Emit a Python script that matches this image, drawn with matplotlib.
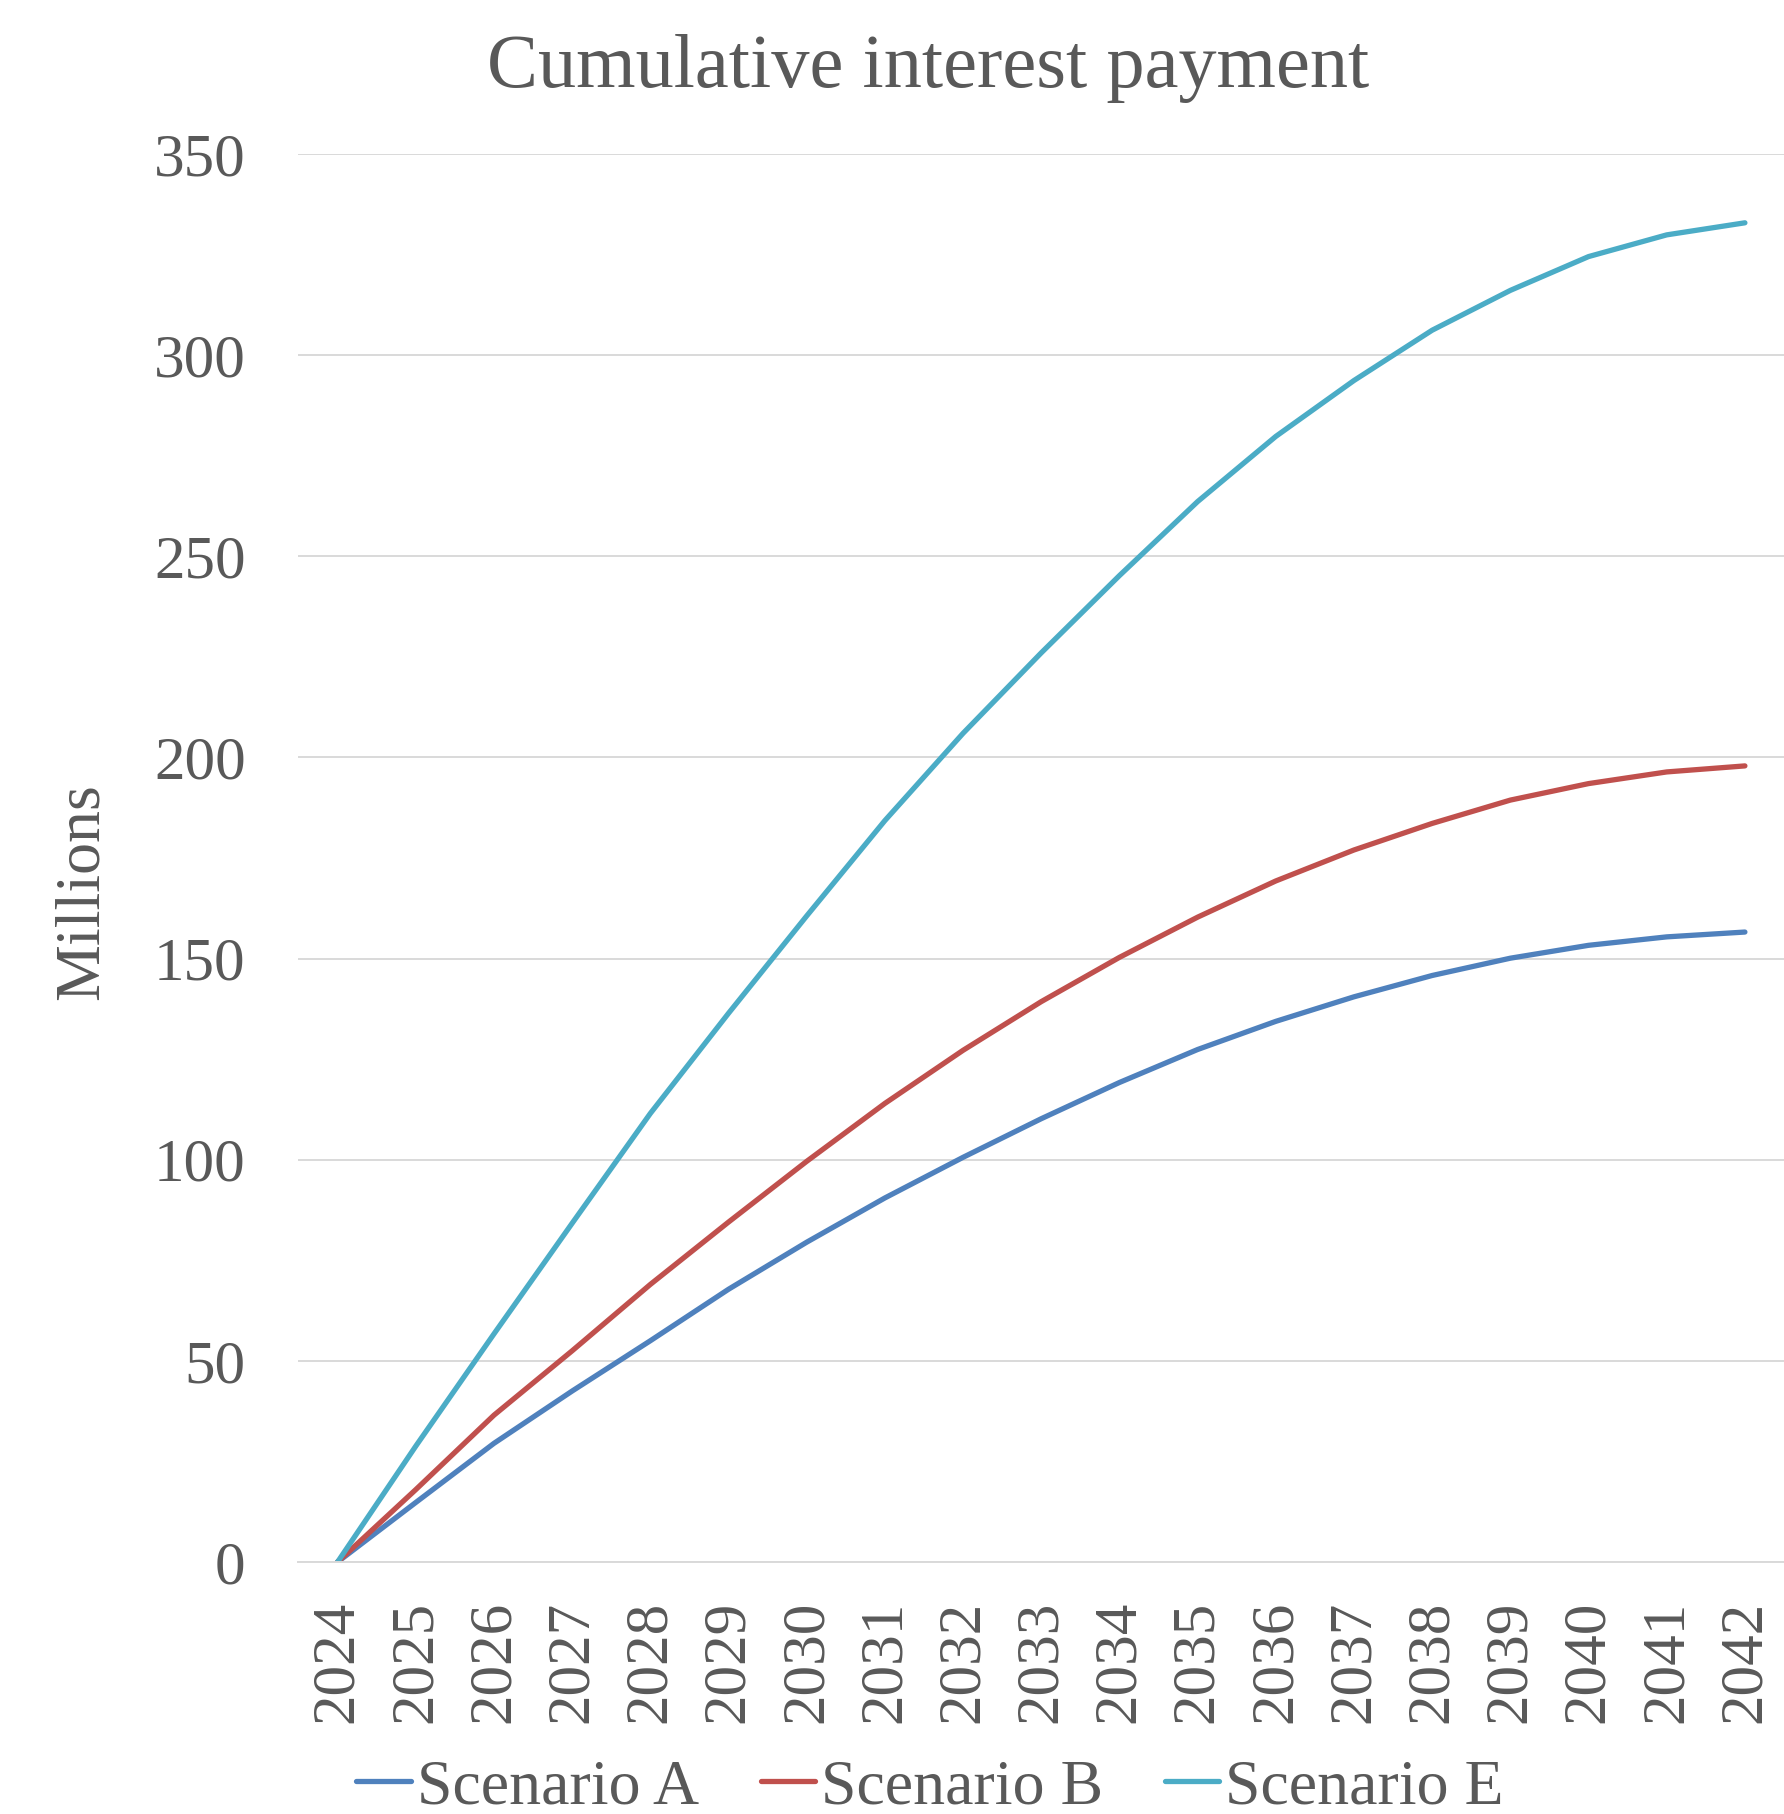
import matplotlib
matplotlib.use("Agg")
import matplotlib.pyplot as plt

years = [str(y) for y in range(2024, 2043)]
scenario_a = [0, 14.8, 29.5, 42.5, 55, 67.8, 79.5, 90.5, 100.6, 110.2, 119.2, 127.4, 134.4, 140.5, 145.8, 150.1, 153.3, 155.4, 156.6]
scenario_b = [0, 18, 36.5, 52.5, 69, 84.5, 99.6, 114, 127.2, 139.3, 150.3, 160.3, 169.3, 177, 183.6, 189.4, 193.5, 196.4, 197.9]
scenario_e = [0, 28.8, 56.7, 84.2, 111.5, 136.4, 160.6, 184.3, 206, 226, 245.2, 263.6, 279.8, 293.7, 306.2, 316.1, 324.5, 329.9, 332.9]
series_names = ["Scenario A", "Scenario B", "Scenario E"]
colors = ["#4F81BD", "#C0504D", "#4BACC6"]
yticks = [0, 50, 100, 150, 200, 250, 300, 350]

plt.rcParams['font.family'] = ['Liberation Serif', 'DejaVu Serif']
text_color = "#595959"

fig = plt.figure(figsize=(17.84, 18.14), dpi=100)
ax = fig.add_axes([0.1673, 0.1389, 0.8327, 0.7762])

x = list(range(len(years)))
for vals, name, c in zip([scenario_a, scenario_b, scenario_e], series_names, colors):
    ax.plot(x, vals, color=c, lw=3.8, label=name, solid_capstyle='round', solid_joinstyle='round')

ax.set_xlim(-0.5, len(years) - 0.5)
ax.set_ylim(0, 350)
ax.set_yticks(yticks)
ax.set_xticks(x)
ax.set_xticklabels(years, rotation=90)
ax.grid(axis='y', color='#D9D9D9', lw=1.4)
ax.set_axisbelow(True)
for s in ['top', 'right', 'left']:
    ax.spines[s].set_visible(False)
ax.spines['bottom'].set_color('#D9D9D9')
ax.spines['bottom'].set_linewidth(1.4)
ax.tick_params(axis='y', length=0, pad=38, labelsize=44, labelcolor=text_color)
ax.tick_params(axis='x', length=0, pad=28, labelsize=44, labelcolor=text_color)

ax.set_ylabel("Millions", fontsize=46, color=text_color)
ax.yaxis.set_label_coords(-0.126, 0.476)

fig.text(0.52, 0.952, "Cumulative interest payment", ha='center', va='baseline', fontsize=55, color=text_color)

leg = fig.legend(loc='center', bbox_to_anchor=(0.5214, 0.0143), ncol=3, frameon=False,
                 fontsize=46, handlelength=0.85, handletextpad=0.1, columnspacing=0.96)
for t in leg.get_texts():
    t.set_color(text_color)

fig.savefig("out.png", dpi=100)
